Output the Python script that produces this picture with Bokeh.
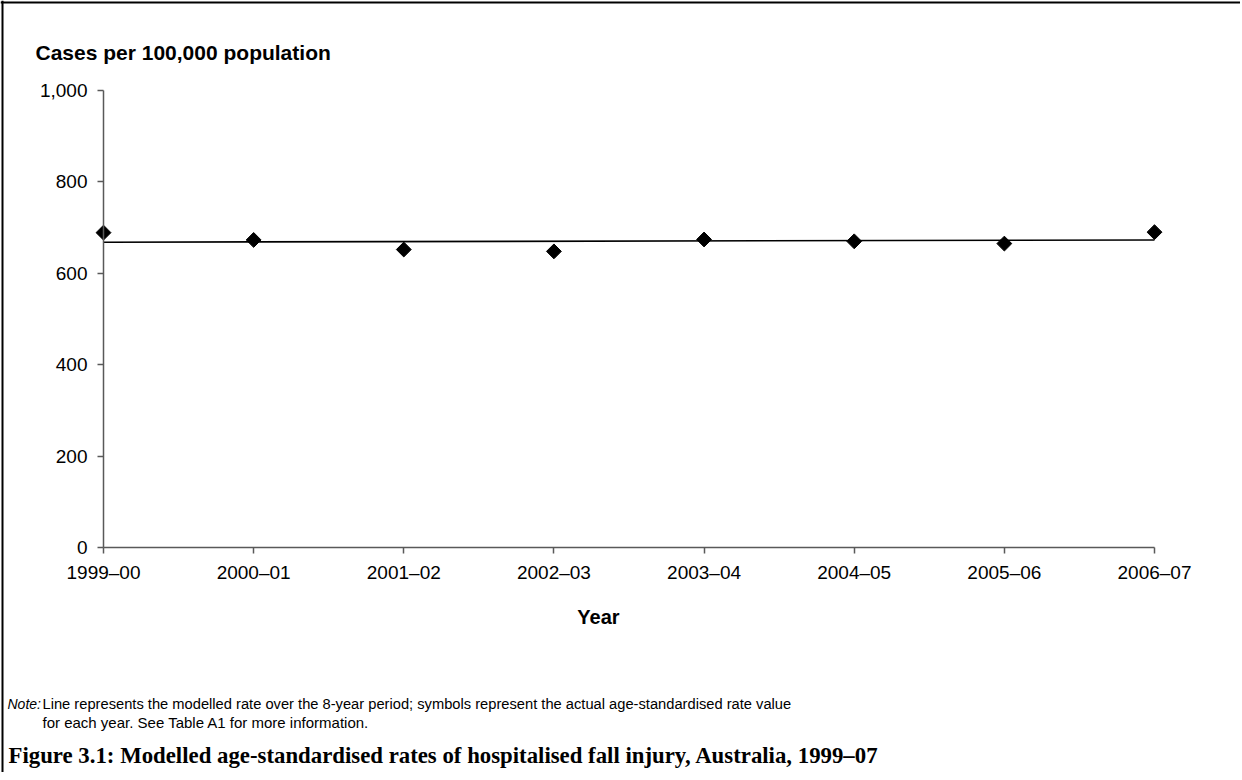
from bokeh.plotting import figure
from bokeh.models import Range1d, FixedTicker, Label, NumeralTickFormatter, Span, InlineStyleSheet
from bokeh.embed import file_html
from bokeh.resources import INLINE

# ---- data ----
years = ["1999\u201300", "2000\u201301", "2001\u201302", "2002\u201303",
         "2003\u201304", "2004\u201305", "2005\u201306", "2006\u201307"]
actual_rate = [689, 673, 652, 648, 674, 670, 665, 690]
modelled_years = [years[0], years[-1]]
modelled_rate = [668, 673]
y_ticks = [0, 200, 400, 600, 800, 1000]

y_title = "Cases per 100,000 population"
x_title = "Year"
note_lead = "Note:"
note_line1 = "Line represents the modelled rate over the 8-year period; symbols represent the actual age-standardised rate value"
note_line2 = "for each year. See Table A1 for more information."
caption = "Figure 3.1: Modelled age-standardised rates of hospitalised fall injury, Australia, 1999\u201307"

xi = list(range(len(years)))
mx = [years.index(y) for y in modelled_years]

SANS = "Liberation Sans"
AXIS_COL = "#595959"
W, H = 1240, 772
# pixel placement of the plotting area inside the canvas
PX0, PX1 = 103, 1154     # x of first / last year
PY0, PY1 = 547, 90       # y of 0 and of 1000
sx = (PX1 - PX0) / (len(years) - 1)
sy = (PY0 - PY1) / 1000.0

p = figure(width=W, height=H, output_backend="svg", toolbar_location=None,
           title_location=None,
           x_range=Range1d(-PX0 / sx, (W - PX0) / sx),
           y_range=Range1d(-(H - PY0) / sy, PY0 / sy),
           min_border_left=0, min_border_right=0, min_border_top=0,
           min_border_bottom=0)
p.styles = {"overflow": "hidden"}
p.stylesheets = [InlineStyleSheet(css=":host, :host * { overflow: hidden !important; scrollbar-width: none; }")]
p.outline_line_color = None
p.background_fill_color = "white"
p.border_fill_color = "white"
p.grid.visible = False

# modelled line
p.line(mx, modelled_rate, line_color="black", line_width=1.6)
# actual values (diamonds)
p.scatter(xi, actual_rate, marker="square", angle=0.785398, size=10.5,
          fill_color="black", line_color="black")

# axes
for ax in (p.xaxis[0], p.yaxis[0]):
    ax.axis_line_color = AXIS_COL
    ax.axis_line_width = 1.5
    ax.major_tick_line_color = AXIS_COL
    ax.major_tick_line_width = 1.5
    ax.major_tick_in = 0
    ax.major_tick_out = 6
    ax.minor_tick_line_color = None
    ax.major_label_text_font = SANS
    ax.major_label_text_font_size = "19px"
    ax.major_label_text_color = "black"
    ax.fixed_location = 0

p.xaxis.ticker = FixedTicker(ticks=xi)
p.xaxis.major_label_overrides = {i: y for i, y in enumerate(years)}
p.xaxis.major_label_standoff = 8
p.xaxis.bounds = (0, len(years) - 1)
p.yaxis.ticker = FixedTicker(ticks=y_ticks)
p.yaxis.formatter = NumeralTickFormatter(format="0,0")
p.yaxis.major_label_standoff = 10
p.yaxis.bounds = (0, 1000)

# outer frame: left and top edges of the figure box
p.add_layout(Span(location=2, location_units="screen", dimension="height",
                  line_color="black", line_width=2))
p.add_layout(Span(location=H - 2, location_units="screen", dimension="width",
                  line_color="black", line_width=2))

# texts (screen units: x from left, y up from bottom)
def lab(text, px, py, font=SANS, size="20px", style="normal", align="left"):
    p.add_layout(Label(x=px, y=H - py, x_units="screen", y_units="screen",
                       text=text, text_font=font, text_font_size=size,
                       text_font_style=style, text_align=align,
                       text_baseline="middle", text_color="black"))

lab(y_title, 35, 52, size="21px", style="bold")
lab(x_title, 598, 616, style="bold", align="center")
lab(note_lead, 7, 703, size="14px", style="italic")
lab(note_line1, 42, 703, size="14.7px")
lab(note_line2, 42, 722, size="15px")
lab(caption, 8, 755, font="Liberation Serif", size="22.8px", style="bold")

open("out.html", "w").write(file_html(p, INLINE))
